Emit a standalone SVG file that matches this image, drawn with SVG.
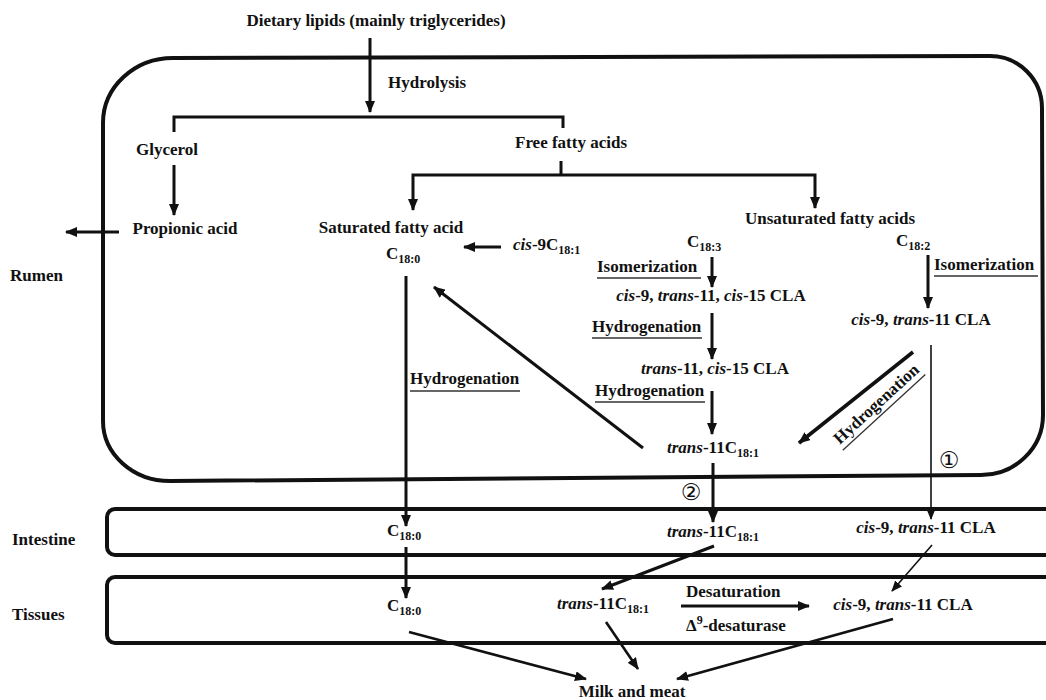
<svg xmlns="http://www.w3.org/2000/svg" width="1046" height="700" viewBox="0 0 1046 700">
<style>
text{font-family:"Liberation Serif","Times New Roman",serif;font-weight:bold;font-size:17px;fill:#111}
.i{font-style:italic}
.s{font-size:12px}
.m{text-anchor:middle}
.c{font-family:"DejaVu Sans","Noto Sans",sans-serif;font-weight:normal;font-size:23px}
.box{fill:none;stroke:#111;stroke-width:4}
.a{fill:none;stroke:#111;stroke-width:3;marker-end:url(#ah)}
.t{fill:none;stroke:#111;stroke-width:1.6;marker-end:url(#ah2)}
.l{fill:none;stroke:#111;stroke-width:3}
.u{stroke:#333;stroke-width:1.3}
</style>
<defs>
<marker id="ah" markerUnits="userSpaceOnUse" markerWidth="12" markerHeight="10" refX="11" refY="5" orient="auto"><path d="M0,0 L12,5 L0,10 z" fill="#111"/></marker>
<marker id="ah2" markerUnits="userSpaceOnUse" markerWidth="11" markerHeight="9" refX="10" refY="4.5" orient="auto"><path d="M0,0 L11,4.5 L0,9 z" fill="#111"/></marker>
</defs>
<rect width="1046" height="700" fill="#fff"/>

<g id="compartments">
<path id="rumen-box" class="box" d="M173,58 L990,56 A52,52 0 0 1 1042,108 L1043,415 A62,60 0 0 1 981,475 L170,481 A67,60 0 0 1 103,421 L103,123 A70,65 0 0 1 173,58 Z"/>
<rect id="intestine-box" class="box" x="107" y="509" width="970" height="46" rx="8"/>
<rect id="tissues-box" class="box" x="107" y="577" width="970" height="66" rx="8"/>
<text id="rumen-label" x="10" y="281">Rumen</text>
<text id="intestine-label" x="12" y="545">Intestine</text>
<text id="tissues-label" x="12" y="620">Tissues</text>
</g>

<g id="connectors">
<line class="a" x1="370" y1="38" x2="370" y2="112"/>
<polyline class="l" points="174,132 174,117 563,117 563,128"/>
<line class="a" x1="174" y1="165" x2="174" y2="215"/>
<line class="a" x1="119" y1="232" x2="66" y2="232"/>
<line class="l" x1="561" y1="161" x2="561" y2="175"/>
<path class="a" d="M561,175 H413 V210"/>
<path class="a" d="M561,175 H815 V208"/>
<line class="a" x1="501" y1="247" x2="464" y2="247"/>
<line class="a" x1="712" y1="257" x2="712" y2="287"/>
<line class="a" x1="712" y1="313" x2="712" y2="359"/>
<line class="a" x1="712" y1="391" x2="712" y2="434"/>
<line class="a" x1="643" y1="448" x2="434" y2="287"/>
<line class="a" x1="928" y1="255" x2="928" y2="308"/>
<line class="a" style="stroke-width:3.6" x1="913" y1="352" x2="799" y2="443"/>
<line class="t" x1="931" y1="345" x2="931" y2="519"/>
<line class="a" x1="406" y1="276" x2="406" y2="526"/>
<line class="a" x1="713" y1="463" x2="713" y2="522"/>
<line class="a" x1="406" y1="547" x2="406" y2="598"/>
<line class="a" x1="714" y1="546" x2="602" y2="589"/>
<line class="t" x1="932" y1="545" x2="892" y2="591"/>
<line class="a" x1="681" y1="606" x2="809" y2="606"/>
<line class="a" style="stroke-width:2.6" x1="409" y1="632" x2="586" y2="679"/>
<line class="a" style="stroke-width:2.6" x1="606" y1="622" x2="638" y2="669"/>
<line class="a" style="stroke-width:2.6" x1="893" y1="619" x2="677" y2="679"/>
</g>

<g id="n-dietary"><text class="m" x="376" y="26">Dietary lipids (mainly triglycerides)</text></g>
<g id="l-hydrolysis"><text x="388" y="88">Hydrolysis</text></g>
<g id="n-glycerol"><text class="m" x="167" y="155">Glycerol</text></g>
<g id="n-ffa"><text x="515" y="148">Free fatty acids</text></g>
<g id="n-propionic"><text class="m" x="185" y="234">Propionic acid</text></g>
<g id="n-sfa"><text class="m" x="391" y="233">Saturated fatty acid</text></g>
<g id="n-c180-rumen"><text x="386" y="259">C<tspan class="s" dy="4">18:0</tspan></text></g>
<g id="n-cis9"><text x="513" y="250"><tspan class="i">cis</tspan>-9C<tspan class="s" dy="4">18:1</tspan></text></g>
<g id="n-ufa"><text class="m" x="830" y="224">Unsaturated fatty acids</text></g>
<g id="n-c183"><text x="687" y="247">C<tspan class="s" dy="4">18:3</tspan></text></g>
<g id="n-c182"><text x="896" y="246">C<tspan class="s" dy="4">18:2</tspan></text></g>
<g id="l-iso1"><text x="597" y="272">Isomerization</text><line class="u" x1="597" y1="278" x2="701" y2="278"/></g>
<g id="n-cla3"><text class="m" x="711" y="301"><tspan class="i">cis</tspan>-9, <tspan class="i">trans</tspan>-11, <tspan class="i">cis</tspan>-15 CLA</text></g>
<g id="l-hyd1"><text x="592" y="332">Hydrogenation</text><line class="u" x1="592" y1="338" x2="702" y2="338"/></g>
<g id="n-t11c15"><text class="m" x="715" y="374"><tspan class="i">trans</tspan>-11, <tspan class="i">cis</tspan>-15 CLA</text></g>
<g id="l-hyd2"><text x="595" y="396">Hydrogenation</text><line class="u" x1="595" y1="402" x2="705" y2="402"/></g>
<g id="n-t11-rumen"><text x="667" y="453"><tspan class="i">trans</tspan>-11C<tspan class="s" dy="4">18:1</tspan></text></g>
<g id="l-hyd3"><text x="410" y="384">Hydrogenation</text><line class="u" x1="410" y1="391" x2="520" y2="391"/></g>
<g id="l-iso2"><text x="934" y="270">Isomerization</text><line class="u" x1="934" y1="276" x2="1038" y2="276"/></g>
<g id="n-cla-rumen"><text class="m" x="921" y="325"><tspan class="i">cis</tspan>-9, <tspan class="i">trans</tspan>-11 CLA</text></g>
<g id="l-hyd4" transform="translate(880,408) rotate(-42.5)"><text class="m" x="0" y="0">Hydrogenation</text><line class="u" x1="-56" y1="6" x2="56" y2="6"/></g>
<g id="l-one"><text class="c m" x="949" y="468">①</text></g>
<g id="l-two"><text class="c m" x="691" y="500">②</text></g>

<g id="n-c180-int"><text x="387" y="536">C<tspan class="s" dy="4">18:0</tspan></text></g>
<g id="n-t11-int"><text x="667" y="537"><tspan class="i">trans</tspan>-11C<tspan class="s" dy="4">18:1</tspan></text></g>
<g id="n-cla-int"><text class="m" x="926" y="533"><tspan class="i">cis</tspan>-9, <tspan class="i">trans</tspan>-11 CLA</text></g>

<g id="n-c180-tis"><text x="387" y="611">C<tspan class="s" dy="4">18:0</tspan></text></g>
<g id="n-t11-tis"><text x="557" y="609"><tspan class="i">trans</tspan>-11C<tspan class="s" dy="4">18:1</tspan></text></g>
<g id="l-desat"><text x="686" y="597">Desaturation</text><text x="686" y="631">Δ<tspan class="s" dy="-7">9</tspan><tspan dy="7">-desaturase</tspan></text></g>
<g id="n-cla-tis"><text class="m" x="903" y="610"><tspan class="i">cis</tspan>-9, <tspan class="i">trans</tspan>-11 CLA</text></g>
<g id="n-milk"><text class="m" x="632" y="697">Milk and meat</text></g>
</svg>
